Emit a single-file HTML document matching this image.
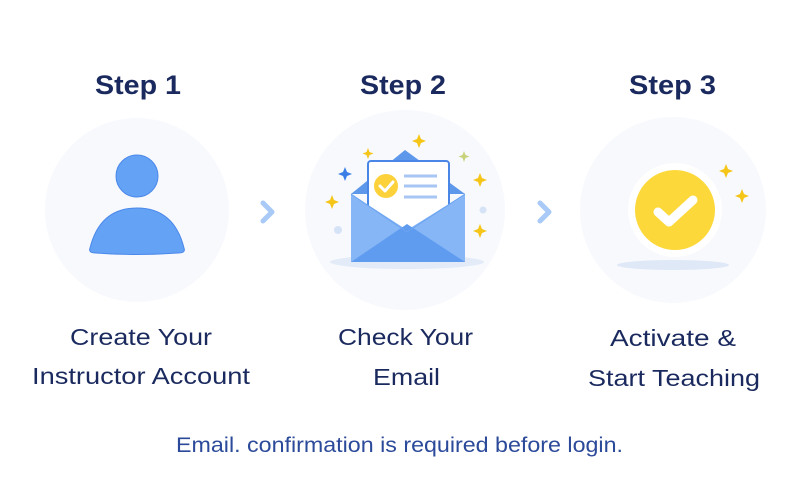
<!DOCTYPE html>
<html><head><meta charset="utf-8"><style>
html,body{margin:0;padding:0;background:#fff;}
svg{display:block;}
text{font-family:"Liberation Sans",sans-serif;}
</style></head><body>
<svg width="800" height="500" viewBox="0 0 800 500" xmlns="http://www.w3.org/2000/svg">
<circle cx="137" cy="210" r="92" fill="#f7f9fd"/>
<circle cx="405" cy="210" r="100" fill="#f7f9fd"/>
<circle cx="673" cy="210" r="93" fill="#f7f9fd"/>

<g fill="#1b2a5e" font-weight="bold" font-size="27">
<text x="95" y="94" textLength="86" lengthAdjust="spacingAndGlyphs">Step 1</text>
<text x="360" y="94" textLength="86" lengthAdjust="spacingAndGlyphs">Step 2</text>
<text x="629" y="94" textLength="87" lengthAdjust="spacingAndGlyphs">Step 3</text>
</g>

<!-- person -->
<circle cx="137" cy="176" r="21" fill="#64a2f5" stroke="#4b88ea" stroke-width="1"/>
<path d="M90 248 Q100 208 137 208 Q174 208 184 248 Q186 253 178 253 Q137 256 96 253 Q88 253 90 248Z" fill="#64a2f5" stroke="#4b88ea" stroke-width="1"/>

<!-- chevrons -->
<path d="M263 203 L272 212 L263 221" fill="none" stroke="#a9c9f6" stroke-width="5" stroke-linecap="round" stroke-linejoin="round"/>
<path d="M540 203 L549 212 L540 221" fill="none" stroke="#a9c9f6" stroke-width="5" stroke-linecap="round" stroke-linejoin="round"/>

<!-- envelope -->
<ellipse cx="407" cy="262" rx="77" ry="7" fill="#e3ebf8"/>
<path d="M351 194 L405 150 L465 194 Z" fill="#5e98ea"/>
<rect x="368" y="161" width="81" height="72" rx="3" fill="#fff" stroke="#4a86e6" stroke-width="2"/>
<circle cx="386" cy="186" r="12" fill="#fcd13a"/>
<path d="M380 186 L385 191 L393 182" fill="none" stroke="#fff" stroke-width="3" stroke-linecap="round" stroke-linejoin="round"/>
<g stroke="#a8c6f3" stroke-width="3"><line x1="404" y1="176" x2="437" y2="176"/><line x1="404" y1="186" x2="437" y2="186"/><line x1="404" y1="197" x2="437" y2="197"/></g>
<path d="M351 194 L407 230 L465 194 L465 262 L351 262 Z" fill="#86b6f6"/>
<path d="M351 262 L407 224 L465 262 Z" fill="#5f9cf0"/>
<path d="M351 194 L407 232 L465 194" fill="none" stroke="#6aa3f0" stroke-width="1"/>
<!-- sparkles -->
<g fill="#f5c518">
<path d="M419 134 l2 5 5 2 -5 2 -2 5 -2 -5 -5 -2 5 -2z"/>
<path d="M368 148 l1.5 4 4 1.5 -4 1.5 -1.5 4 -1.5 -4 -4 -1.5 4 -1.5z"/>
<path d="M480 173 l2 5 5 2 -5 2 -2 5 -2 -5 -5 -2 5 -2z"/>
<path d="M332 195 l2 5 5 2 -5 2 -2 5 -2 -5 -5 -2 5 -2z"/>
<path d="M480 224 l2 5 5 2 -5 2 -2 5 -2 -5 -5 -2 5 -2z"/>
<path d="M726 164 l2 5 5 2 -5 2 -2 5 -2 -5 -5 -2 5 -2z"/>
<path d="M742 189 l2 5 5 2 -5 2 -2 5 -2 -5 -5 -2 5 -2z"/>
</g>
<path d="M464 151 l1.5 4 4 1.5 -4 1.5 -1.5 4 -1.5 -4 -4 -1.5 4 -1.5z" fill="#c8d27a"/>
<path d="M345 167 l2 5 5 2 -5 2 -2 5 -2 -5 -5 -2 5 -2z" fill="#3b7fe6"/>
<circle cx="483" cy="210" r="3.5" fill="#d6e3f6"/>
<circle cx="338" cy="230" r="4" fill="#d6e3f6"/>

<!-- step 3 -->
<ellipse cx="673" cy="265" rx="56" ry="5" fill="#dfe8f6"/>
<circle cx="675" cy="210" r="47" fill="#ffffff"/>
<circle cx="675" cy="210" r="40" fill="#fdd83a"/>
<path d="M658 212 L669 222 L693 200" fill="none" stroke="#fff" stroke-width="9" stroke-linecap="round" stroke-linejoin="round"/>

<g fill="#1b2a5e" font-size="23" lengthAdjust="spacingAndGlyphs">
<text x="70" y="345" textLength="142" lengthAdjust="spacingAndGlyphs">Create Your</text>
<text x="32" y="384" textLength="218" lengthAdjust="spacingAndGlyphs">Instructor Account</text>
<text x="338" y="345" textLength="135" lengthAdjust="spacingAndGlyphs">Check Your</text>
<text x="373" y="385" textLength="67" lengthAdjust="spacingAndGlyphs">Email</text>
<text x="610" y="346" textLength="126" lengthAdjust="spacingAndGlyphs">Activate &amp;</text>
<text x="588" y="386" textLength="172" lengthAdjust="spacingAndGlyphs">Start Teaching</text>
</g>
<text x="176" y="452" font-size="21" fill="#2c4a9a" textLength="447" lengthAdjust="spacingAndGlyphs">Email. confirmation is required before login.</text>
</svg>
</body></html>
